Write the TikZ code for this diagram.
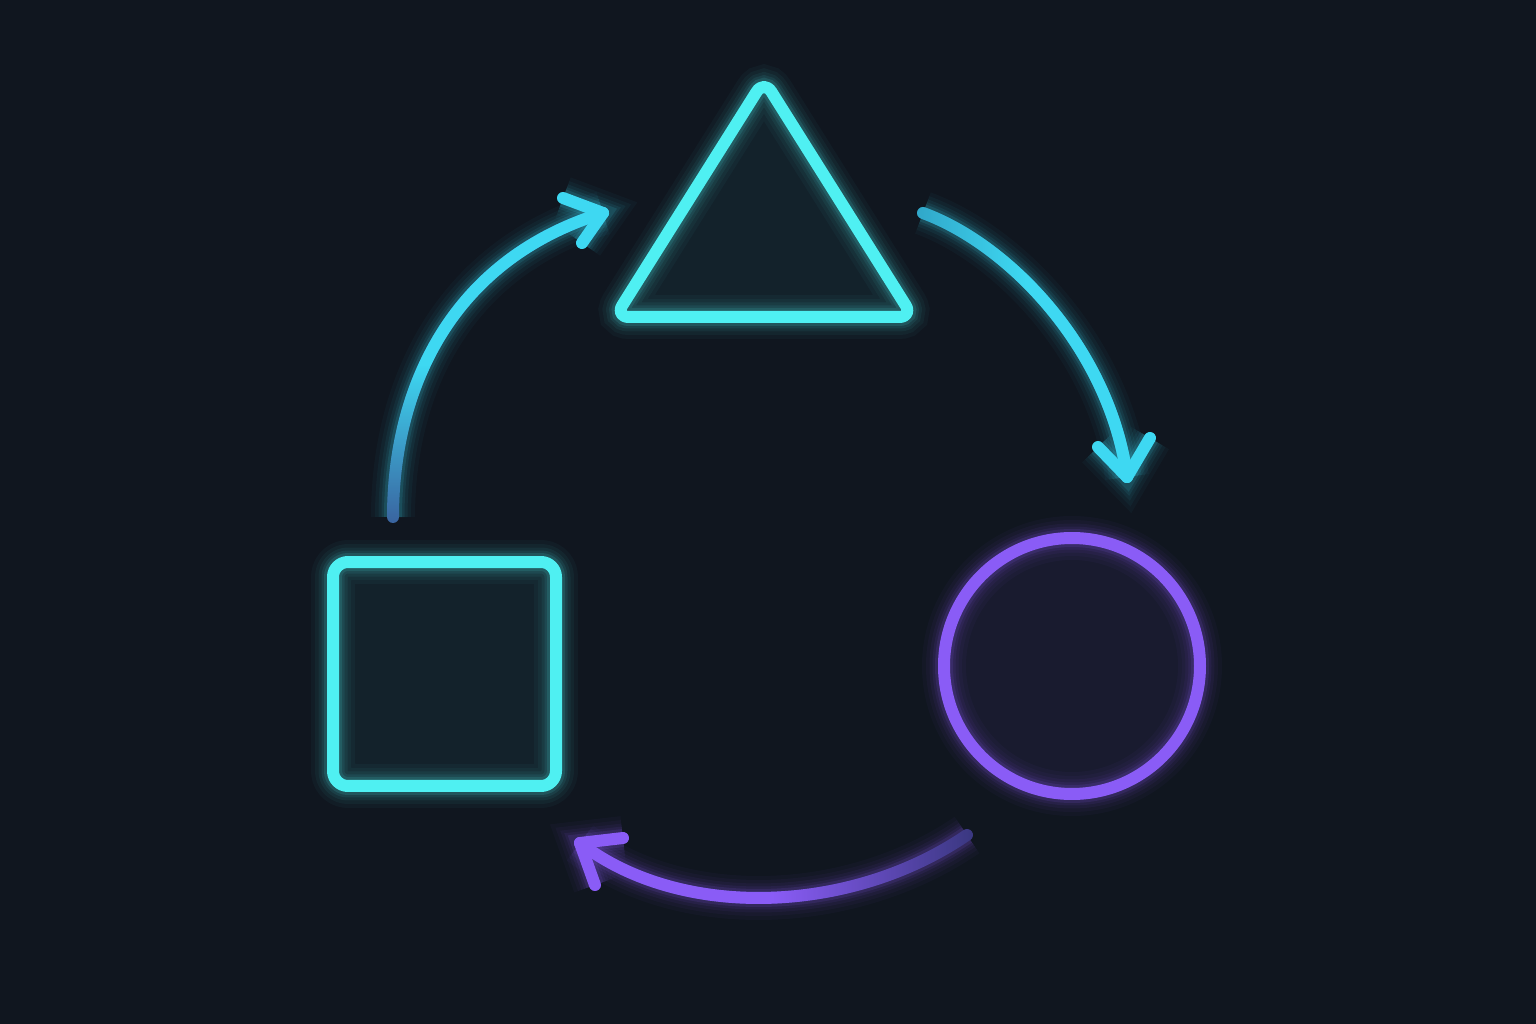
\documentclass[tikz,border=0pt]{standalone}
\usepackage{tikz}
\usetikzlibrary{shapes,positioning,calc,fadings}

\definecolor{bgnavy}{HTML}{10161F}
\definecolor{neoncyan}{HTML}{4FF0F2}
\definecolor{arrowcyan}{HTML}{3ED8F2}
\definecolor{dimblue}{HTML}{3A64A0}
\definecolor{dimcyan}{HTML}{2E9CC0}
\definecolor{neonviolet}{HTML}{8A5CF6}
\definecolor{dimviolet}{HTML}{3A3880}

\tikzfading[name=fadeup, bottom color=transparent!100, top color=transparent!0, middle color=transparent!0]
\tikzfading[name=fadein, left color=transparent!80, right color=transparent!0, middle color=transparent!0]
\tikzfading[name=fadeout, right color=transparent!100, left color=transparent!0, middle color=transparent!0]

\begin{document}
\begin{tikzpicture}[x=0.1mm, y=-0.1mm]
    \useasboundingbox (0,0) rectangle (1536,1024);
    \fill[bgnavy] (0,0) rectangle (1536,1024);

    \tikzset{core/.style={line width=1.2mm, line cap=round, line join=round},
        glow/.style={core,
            preaction={draw=#1, line width=4.4mm, draw opacity=0.035},
            preaction={draw=#1, line width=3.6mm, draw opacity=0.045},
            preaction={draw=#1, line width=2.9mm, draw opacity=0.06},
            preaction={draw=#1, line width=2.3mm, draw opacity=0.08},
            preaction={draw=#1, line width=1.8mm, draw opacity=0.12}},
        neon/.style={glow=#1, draw=#1}}

    \coordinate (triTop)   at (764,80);
    \coordinate (triLeft)  at (615,317);
    \coordinate (triRight) at (913,317);
    \draw[neon=neoncyan, fill=neoncyan, fill opacity=0.06, rounded corners=1.4mm]
        (triTop) -- (triRight) -- (triLeft) -- cycle;

    \node[neon=neoncyan, fill=neoncyan, fill opacity=0.06, rounded corners=1.5mm,
        minimum width=22.3mm, minimum height=22.4mm] at (444.5,674) (square) {};
    \node[neon=neonviolet, fill=neonviolet, fill opacity=0.08, circle, inner sep=0pt,
        minimum size=25.6mm] at (1072,666) (ring) {};

    \coordinate (sqOut)   at (393,517);
    \coordinate (triIn)   at (603,213);
    \coordinate (triOut)  at (923,213);
    \coordinate (ringIn)  at (1127,477);
    \coordinate (ringOut) at (967,835);
    \coordinate (sqIn)    at (580,843);

    \draw[glow=arrowcyan, draw=dimblue] (sqOut) .. controls (393,390) and (450,260) .. (triIn);
    \draw[core, draw=arrowcyan, path fading=fadeup] (sqOut) .. controls (393,390) and (450,260) .. (triIn);
    \draw[neon=arrowcyan] (563,198) -- (triIn) -- (582,243);

    \draw[glow=arrowcyan, draw=dimcyan] (triOut) .. controls (1010,245) and (1110,350) .. (ringIn);
    \draw[core, draw=arrowcyan, path fading=fadein] (triOut) .. controls (1010,245) and (1110,350) .. (ringIn);
    \draw[neon=arrowcyan] (1098,447) -- (ringIn) -- (1150,438);

    \draw[glow=neonviolet, draw=dimviolet] (ringOut) .. controls (850,915) and (680,920) .. (sqIn);
    \draw[core, draw=neonviolet, path fading=fadeout] (ringOut) .. controls (850,915) and (680,920) .. (sqIn);
    \draw[neon=neonviolet] (623,838) -- (sqIn) -- (595,885);
\end{tikzpicture}
\end{document}
